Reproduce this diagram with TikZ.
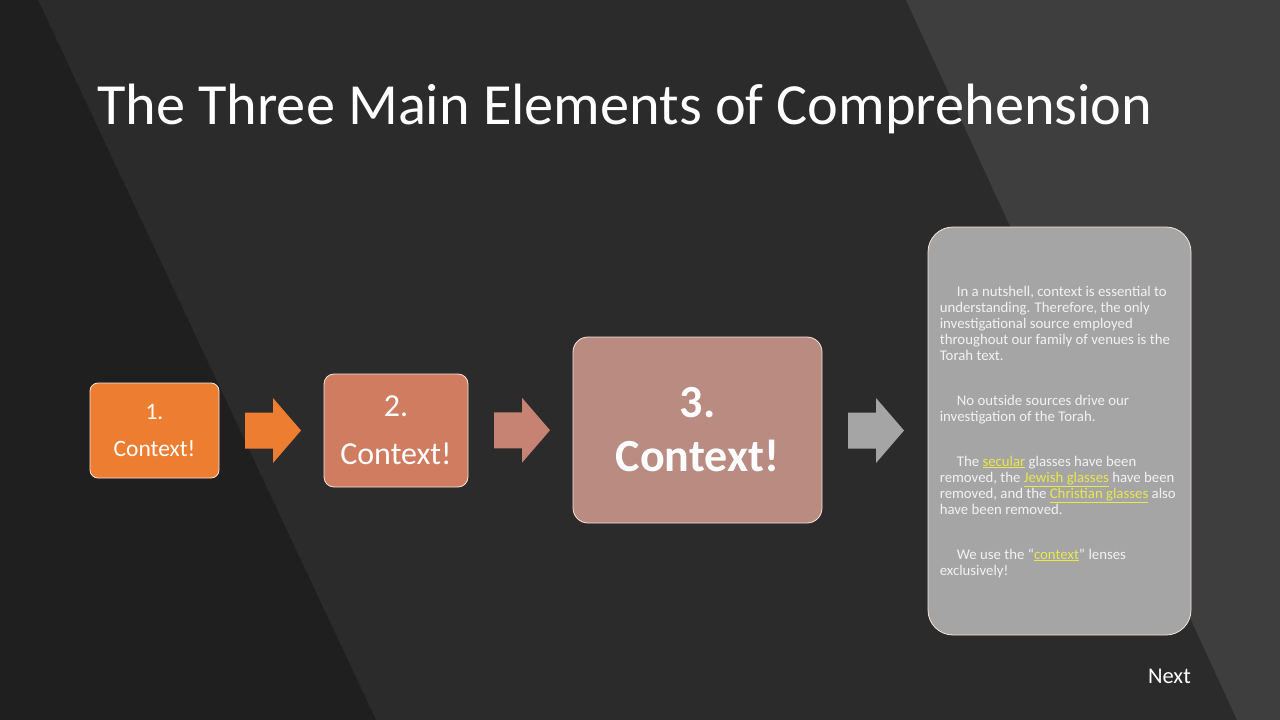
\documentclass[tikz,border=0pt]{standalone}
\usepackage{fontspec}
\setmainfont{Carlito}
\usetikzlibrary{calc}

\definecolor{bgmid}{HTML}{2B2B2B}
\definecolor{bgdark}{HTML}{1F1F1F}
\definecolor{bglight}{HTML}{3E3E3E}
\definecolor{boxA}{HTML}{ED7D31}
\definecolor{boxB}{HTML}{D07C60}
\definecolor{boxC}{HTML}{B98B81}
\definecolor{arrB}{HTML}{C68272}
\definecolor{panelgray}{HTML}{A5A5A5}
\definecolor{boxline}{HTML}{F5E6DC}
\definecolor{linky}{HTML}{E8E84E}

\newcommand{\lnk}[1]{\textcolor{linky}{\underline{#1}}}

\tikzset{
  blockarrow/.pic={
    \fill[pic actions] (-28,-18) -- (0,-18) -- (0,-32.5) -- (28,0)
      -- (0,32.5) -- (0,18) -- (-28,18) -- cycle;
  }
}

\begin{document}
\begin{tikzpicture}[x=1pt,y=-1pt,
  stepbox/.style={draw=boxline, line width=0.8pt, text=white, align=center, inner sep=0pt}]
  % background bands
  \fill[bgmid] (0,0) rectangle (1280,720);
  \fill[bgdark] (0,0) -- (38,0) -- (376,720) -- (0,720) -- cycle;
  \fill[bglight] (906,0) -- (1280,0) -- (1280,720) -- (1237,720) -- cycle;
  % title
  \node[anchor=base west, inner sep=0pt, text=white, font=\fontsize{58.3}{60}\selectfont] (title) at (97,124) {The Three Main Elements of Comprehension};
  % the three steps
  \node[stepbox, fill=boxA, minimum width=129, minimum height=95, rounded corners=8,
    font=\fontsize{23.5}{37}\selectfont] (box1) at (154.5,430.5) {1.\\Context!};
  \node[stepbox, fill=boxB, minimum width=144, minimum height=113, rounded corners=10,
    font=\fontsize{32}{48}\selectfont] (box2) at (396,430.5) {2.\\Context!};
  \node[stepbox, fill=boxC, minimum width=249, minimum height=186, rounded corners=15,
    font=\bfseries\fontsize{46}{54}\selectfont] (box3) at (697.5,430) {3.\\Context!};
  % notes panel
  \node[draw=boxline, line width=0.8pt, fill=panelgray, rounded corners=25,
    minimum width=263, minimum height=408] (panel) at (1059.5,431) {};
  \node[anchor=north west, inner sep=0pt, text=white!95!black, align=left,
    font=\fontsize{14.8}{16}\selectfont] (notes) at ([shift={(12,59)}]panel.north west) {%
    \hspace*{17pt}In a nutshell, context is essential to\\
    understanding. Therefore, the only\\
    investigational source employed\\
    throughout our family of venues is the\\
    Torah text.\\[29pt]
    \hspace*{17pt}No outside sources drive our\\
    investigation of the Torah.\\[29pt]
    \hspace*{17pt}The \lnk{secular} glasses have been\\
    removed, the \lnk{Jewish glasses} have been\\
    removed, and the \lnk{Christian glasses} also\\
    have been removed.\\[29pt]
    \hspace*{17pt}We use the “\lnk{context}” lenses\\
    exclusively!};
  % block arrows between the steps
  \pic[fill=boxA] at ($(box1.east)!0.5!(box2.west)+(1.5,0)$) {blockarrow};
  \pic[fill=arrB] at ($(box2.east)!0.5!(box3.west)+(1.5,0)$) {blockarrow};
  \pic[fill=panelgray] at ($(box3.east)!0.5!(panel.west)+(1,0)$) {blockarrow};
  % footer link
  \node[anchor=base east, inner sep=0pt, text=white, font=\fontsize{22.5}{24}\selectfont] (next) at (1191,683) {Next};
\end{tikzpicture}
\end{document}
